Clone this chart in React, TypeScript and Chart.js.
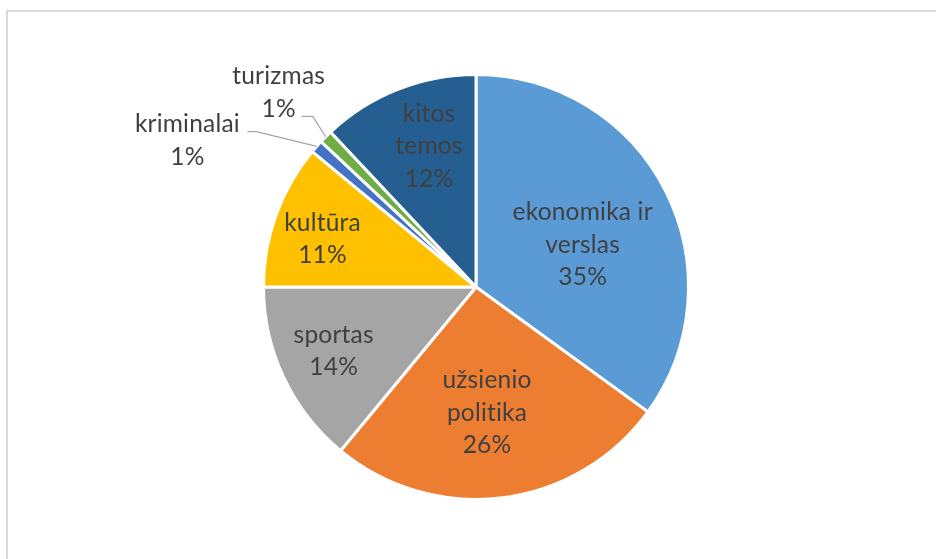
import React, { useEffect, useRef } from "react";
import { Chart, registerables } from "chart.js";

Chart.register(...registerables);

const categories = [
  "ekonomika ir verslas",
  "užsienio politika",
  "sportas",
  "kultūra",
  "kriminalai",
  "turizmas",
  "kitos temos",
];
const values = [35, 26, 14, 11, 1, 1, 12];
const labelLines = [
  ["ekonomika ir", "verslas"],
  ["užsienio", "politika"],
  ["sportas"],
  ["kultūra"],
  ["kriminalai"],
  ["turizmas"],
  ["kitos", "temos"],
];
const colors = ["#5B9BD5", "#ED7D31", "#A5A5A5", "#FFC000", "#4472C4", "#70AD47", "#255E91"];

// label placement style: radius fraction, angle shift (deg), optional leader
const labelStyle = [
  { frac: 0.54, shift: 5.4 },
  { frac: 0.594, shift: 2.2 },
  { frac: 0.735, shift: 0.9 },
  { frac: 0.757, shift: -2.4 },
  { frac: 1.523, shift: -14.5, leader: { dx: 60, dy: -9, run: 9 } },
  { frac: 1.304, shift: -0.4, leader: { dx: 23, dy: 24, run: 11 } },
  { frac: 0.697, shift: 3.1 },
];

const FONT = "24.5px Lato";
const LINE_H = 32.5;

const labelPlugin = {
  id: "pieLabels",
  afterDatasetsDraw(chart: any) {
    const ctx = chart.ctx;
    const meta = chart.getDatasetMeta(0);
    const total = values.reduce((a, b) => a + b, 0);
    ctx.save();
    ctx.font = FONT;
    try {
      (ctx as any).letterSpacing = "0.2px";
    } catch (e) {}
    ctx.fillStyle = "#404040";
    ctx.textAlign = "center";
    ctx.textBaseline = "middle";
    meta.data.forEach((arc: any, i: number) => {
      const { x, y, startAngle, endAngle, outerRadius } = arc.getProps(
        ["x", "y", "startAngle", "endAngle", "outerRadius"],
        true
      );
      const mid = (startAngle + endAngle) / 2;
      const st = labelStyle[i];
      const a = mid + (st.shift * Math.PI) / 180;
      const lx = x + Math.cos(a) * outerRadius * st.frac;
      const ly = y + Math.sin(a) * outerRadius * st.frac;
      const pct = Math.round((values[i] / total) * 100) + "%";
      const lines = [...labelLines[i], pct];
      const y0 = ly - ((lines.length - 1) * LINE_H) / 2;
      lines.forEach((t, k) => ctx.fillText(t, lx, y0 + k * LINE_H));
      if (st.leader) {
        const sx = lx + st.leader.dx;
        const sy = ly + st.leader.dy;
        const ex = x + Math.cos(mid) * outerRadius;
        const ey = y + Math.sin(mid) * outerRadius;
        ctx.strokeStyle = "#A6A6A6";
        ctx.lineWidth = 1.3;
        ctx.beginPath();
        ctx.moveTo(sx, sy);
        ctx.lineTo(sx + st.leader.run, sy);
        ctx.lineTo(ex, ey);
        ctx.stroke();
      }
    });
    ctx.restore();
  },
};

export default function App() {
  const ref = useRef<HTMLCanvasElement>(null);
  useEffect(() => {
    if (!ref.current) return;
    const chart = new Chart(ref.current, {
      type: "pie",
      data: {
        labels: categories,
        datasets: [
          {
            data: values,
            backgroundColor: colors,
            borderColor: "#FFFFFF",
            borderWidth: 3,
          },
        ],
      },
      options: {
        animation: false,
        responsive: false,
        layout: { padding: { top: 73, bottom: 58, left: 16, right: 0 } },
        plugins: { legend: { display: false }, tooltip: { enabled: false } },
      },
      plugins: [labelPlugin],
    });
    return () => chart.destroy();
  }, []);
  return (
    <div style={{ position: "fixed", left: 0, top: 0, width: 936, height: 559, overflow: "hidden", background: "#fff" }}>
      <div
        style={{
          position: "absolute",
          left: 6,
          top: 10,
          width: 1000,
          height: 1000,
          borderTop: "2px solid #D9D9D9",
          borderLeft: "2px solid #D9D9D9",
        }}
      />
      <canvas ref={ref} width={936} height={559} style={{ position: "absolute", left: 0, top: 0 }} />
    </div>
  );
}
